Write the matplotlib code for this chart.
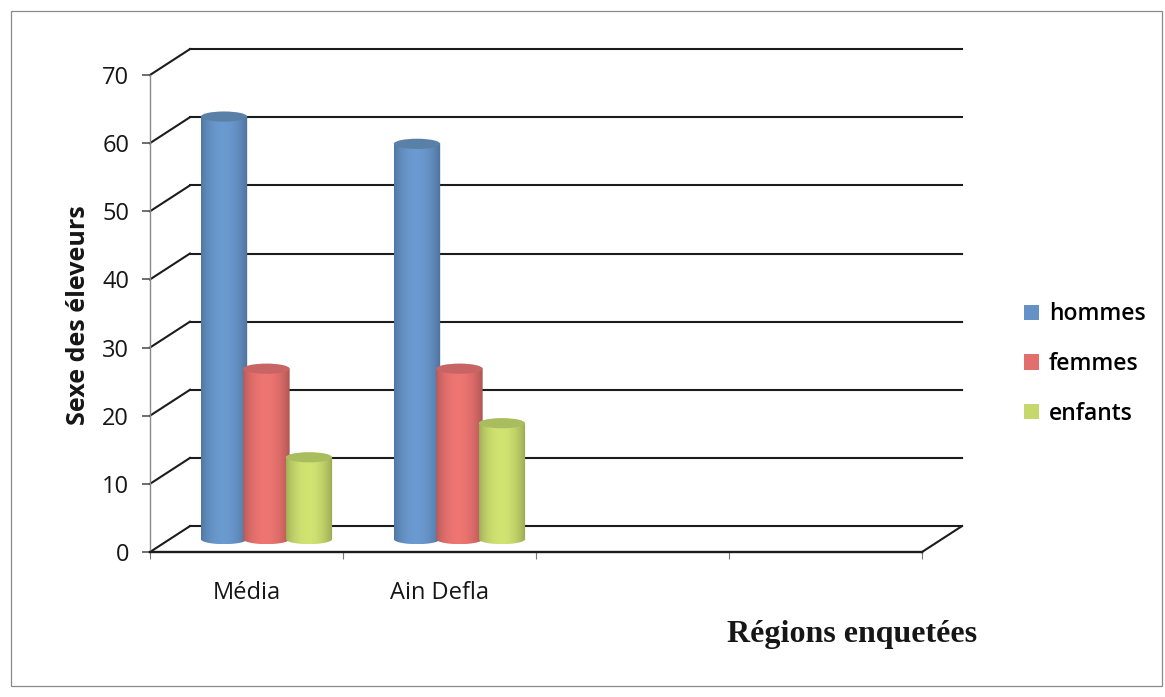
import numpy as np
import matplotlib.pyplot as plt
import matplotlib as mpl
from matplotlib.patches import Polygon, Ellipse, Patch, Rectangle
from matplotlib.colors import to_rgb

mpl.rcParams['font.family'] = ['Open Sans', 'DejaVu Sans']

# données
regions = ['Média', 'Ain Defla', '', '']
series = ['hommes', 'femmes', 'enfants']
hommes = [62, 58, 0, 0]
femmes = [25, 25, 0, 0]
enfants = [12, 17, 0, 0]
yticks = [0, 10, 20, 30, 40, 50, 60, 70]

values = [hommes, femmes, enfants]
body_colors = ['#6592c6', '#e26f6c', '#c6d86c']
top_colors = ['#5a80a8', '#c86564', '#a9bd5e']

# profondeur du cadre 3D (unités de données)
DX, DY = 0.207, 3.8
BAR_W, BAR_STEP, ELL_H = 0.24, 0.22, 1.5
LINE = '#1c1c1c'
TXT = '#161616'


def draw_cylinder(ax, xc, base, h, color, top, z):
    w = BAR_W
    t = np.linspace(0, np.pi, 40)
    arc = np.column_stack([xc + w / 2 * np.cos(t), base - ELL_H / 2 * np.sin(t)])
    pts = np.vstack([arc, [[xc - w / 2, base + h], [xc + w / 2, base + h]]])
    body = Polygon(pts, closed=True, facecolor='none', edgecolor='none', zorder=z)
    ax.add_patch(body)

    # dégradé horizontal pour l'effet cylindre
    u = np.linspace(0, 1, 64)
    shade = 0.80 + 0.28 * np.sin(np.pi * u) ** 0.7 - 0.05 * u
    rgb = np.clip(np.array(to_rgb(color))[None, :] * shade[:, None], 0, 1)
    im = ax.imshow(rgb[None, :, :], extent=(xc - w / 2, xc + w / 2, base - ELL_H / 2, base + h),
                   aspect='auto', interpolation='bilinear', zorder=z)
    im.set_clip_path(body)

    ax.add_patch(Ellipse((xc, base + h), w, ELL_H, facecolor=top,
                         edgecolor='none', zorder=z + 0.5))


fig = plt.figure(figsize=(11.65, 6.97), dpi=100)
ax = fig.add_axes([150 / 1165, 145 / 697, 772 / 1165, 477 / 697])
n = len(regions)

# murs et grille
for v in yticks:
    ax.plot([DX, n + DX], [v + DY, v + DY], color=LINE, lw=1.5, zorder=1, clip_on=False)
    ax.plot([0, DX], [v, v + DY], color=LINE, lw=1.5, zorder=1, clip_on=False)
ax.plot([n, n + DX], [0, DY], color=LINE, lw=1.5, zorder=1, clip_on=False)

# cylindres
for i, vals in enumerate(values):
    for j, v in enumerate(vals):
        if v <= 0:
            continue
        xc = j + 0.5 + (i - 1) * BAR_STEP + DX / 2
        draw_cylinder(ax, xc, DY / 2, v, body_colors[i], top_colors[i], 3 + i)

ax.set_xlim(0, n)
ax.set_ylim(0, 70)

for s in ['top', 'right']:
    ax.spines[s].set_visible(False)
ax.spines['left'].set_color('#8a8a8a')
ax.spines['left'].set_linewidth(1.0)
ax.spines['bottom'].set_color(LINE)
ax.spines['bottom'].set_linewidth(1.7)

ax.set_yticks(yticks)
ax.tick_params(axis='y', length=6, width=1.2, color='#555555', pad=9, labelsize=17,
               labelcolor=TXT)
ax.set_xticks(range(n + 1))
ax.set_xticklabels([])
ax.set_xticks([k + 0.5 for k in range(n)], minor=True)
ax.set_xticklabels(regions, minor=True)
ax.tick_params(axis='x', which='major', length=5, width=0.8, color='#777777')
ax.tick_params(axis='x', which='minor', length=0, pad=21, labelsize=17, labelcolor=TXT)

fig.text(79 / 1165, 1 - 315 / 697, 'Sexe des éleveurs', rotation=90, ha='center', va='center',
         fontsize=18, fontweight='bold', color=TXT)
fig.text(727 / 1165, 1 - 642 / 697, 'Régions enquetées', ha='left', va='baseline',
         fontsize=23, fontweight='bold', family=['Liberation Serif'], color=TXT)

handles = [Patch(facecolor=c, edgecolor='none') for c in body_colors]
fig.legend(handles, series, loc='center left', bbox_to_anchor=(1003 / 1165, 1 - 364 / 697),
           frameon=False, prop={'size': 16.5, 'weight': 'semibold'},
           handlelength=0.65, handleheight=0.65,
           handletextpad=0.45, labelspacing=1.12)

fig.patches.append(Rectangle((11 / 1165, 11 / 697), 1151 / 1165, 675 / 697,
                             transform=fig.transFigure, fill=False,
                             edgecolor='#8a8a8a', lw=0.9))

fig.savefig('out.png', dpi=100)
